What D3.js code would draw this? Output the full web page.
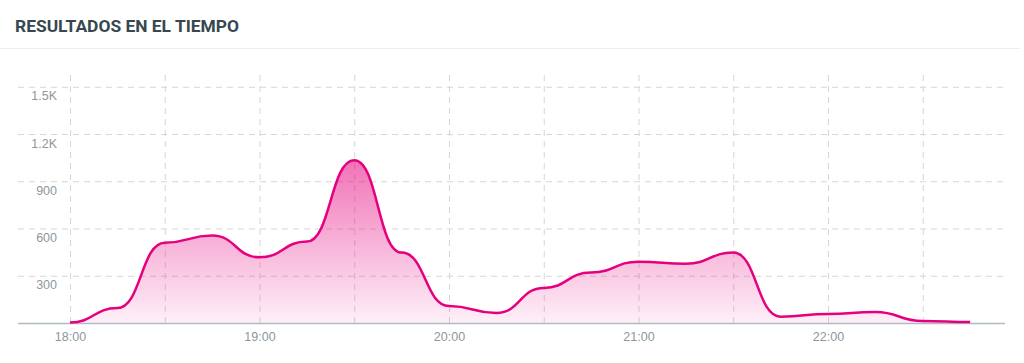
<!DOCTYPE html>
<html>
<head>
<meta charset="utf-8">
<script src="https://cdn.jsdelivr.net/npm/d3@7"></script>
<style>
  body { margin: 0; background: #fff; font-family: Roboto, "Noto Sans", sans-serif; }
  svg { display: block; }
  .title { font-size: 17.4px; font-weight: 700; fill: #37474f; }
  .tick text { font-size: 12.5px; fill: #8d979c; }
</style>
</head>
<body>
<svg id="chart" width="1024" height="363"></svg>
<script>
// times every 15 minutes, 18:00 → 22:45
const times = ["18:00","18:15","18:30","18:45","19:00","19:15","19:30","19:45",
  "20:00","20:15","20:30","20:45","21:00","21:15","21:30","21:45",
  "22:00","22:15","22:30","22:45"];
const values = [3, 95, 510, 555, 417, 517, 1034, 447,
  108, 64, 223, 321, 389, 376, 447, 40,
  57, 70, 13, 6];
const yTickValues = [300, 600, 900, 1200, 1500];
const xTickLabels = ["18:00", "19:00", "20:00", "21:00", "22:00"];

const parseTime = d3.timeParse("%H:%M");
const data = times.map((t, i) => ({ time: parseTime(t), value: values[i] }));

const svg = d3.select("#chart");
const width = 1024, height = 363;
const margin = { top: 71, right: 19, bottom: 40, left: 18 };
const plotLeft = 70; // where 18:00 sits

const xScale = d3.scaleTime()
    .domain([parseTime("18:00"), parseTime("22:00")])
    .range([plotLeft, 828]);

const yScale = d3.scaleLinear()
    .domain([0, 1600])
    .range([323, margin.top]);

// header
svg.append("text")
    .attr("class", "title")
    .attr("x", 15)
    .attr("y", 32)
    .text("RESULTADOS EN EL TIEMPO");

svg.append("line")
    .attr("x1", 0).attr("x2", 1020)
    .attr("y1", 48.5).attr("y2", 48.5)
    .attr("stroke", "#eceff1");

const g = svg.append("g");

// horizontal grid + labels
const yAxis = d3.axisLeft(yScale)
    .tickValues(yTickValues)
    .tickSize(-(width - margin.right - margin.left))
    .tickFormat(d => d >= 1000 ? d3.format(".1f")(d / 1000) + "K" : d);

const yAxisG = g.append("g")
    .attr("transform", `translate(${margin.left},0)`)
    .call(yAxis);
yAxisG.select(".domain").remove();
yAxisG.selectAll(".tick line")
    .attr("stroke", "#d6d6d6")
    .attr("stroke-dasharray", "6,5");
yAxisG.selectAll(".tick text")
    .attr("x", 39)
    .attr("dy", "1.05em");

// vertical grid every 30 minutes
const halfHours = d3.timeMinute.every(30).range(parseTime("18:00"), parseTime("22:31"));
const vGrid = g.append("g")
    .attr("transform", `translate(0,323)`)
    .call(d3.axisBottom(xScale)
        .tickValues(halfHours)
        .tickSize(-(323 - margin.top))
        .tickFormat(""));
vGrid.select(".domain").remove();
vGrid.selectAll(".tick line")
    .attr("stroke", "#d6d6d6")
    .attr("stroke-dasharray", "6,5");

// gradient
const defs = svg.append("defs");
const grad = defs.append("linearGradient")
    .attr("id", "fillGrad")
    .attr("gradientUnits", "userSpaceOnUse")
    .attr("x1", 0).attr("x2", 0)
    .attr("y1", yScale(d3.max(values))).attr("y2", yScale(0));
grad.append("stop").attr("offset", "0%").attr("stop-color", "#e6007e").attr("stop-opacity", 0.55);
grad.append("stop").attr("offset", "100%").attr("stop-color", "#e6007e").attr("stop-opacity", 0.06);

const area = d3.area()
    .x(d => xScale(d.time))
    .y0(yScale(0))
    .y1(d => yScale(d.value))
    .curve(d3.curveBumpX);

const line = d3.line()
    .x(d => xScale(d.time))
    .y(d => yScale(d.value))
    .curve(d3.curveBumpX);

g.append("path")
    .datum(data)
    .attr("d", area)
    .attr("fill", "url(#fillGrad)");

// x axis
const xAxisG = g.append("g")
    .attr("transform", `translate(0,323)`)
    .call(d3.axisBottom(xScale)
        .tickValues(xTickLabels.map(parseTime))
        .tickSize(0)
        .tickPadding(6)
        .tickFormat(d3.timeFormat("%H:%M")));
xAxisG.select(".domain").remove();
xAxisG.selectAll(".tick text").attr("dy", "0.95em");

g.append("line")
    .attr("x1", margin.left).attr("x2", width - margin.right)
    .attr("y1", 323.5).attr("y2", 323.5)
    .attr("stroke", "#b0bcc2")
    .attr("stroke-width", 1.5);

g.append("path")
    .datum(data)
    .attr("d", line)
    .attr("fill", "none")
    .attr("stroke", "#e6007e")
    .attr("stroke-width", 2.5);
</script>
</body>
</html>
